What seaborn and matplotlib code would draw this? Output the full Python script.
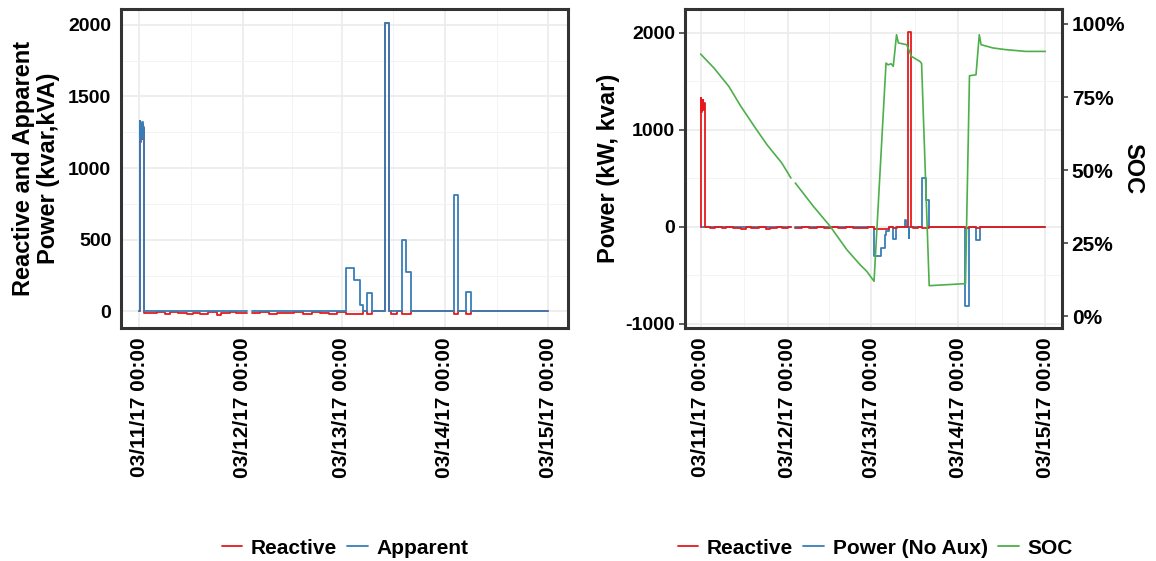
import numpy as np
import pandas as pd
import matplotlib
matplotlib.use("Agg")
import matplotlib.pyplot as plt
from matplotlib.lines import Line2D
import seaborn as sns

# Hours since 03/11/17 00:00 local time (DST starts on 03/12, so that day has 23 h)
tick_hours = [0, 24, 47, 71, 95]
tick_labels = ["03/11/17 00:00", "03/12/17 00:00", "03/13/17 00:00",
               "03/14/17 00:00", "03/15/17 00:00"]
minor_hours = [12, 35.5, 59, 83]
gap = (25.0, 26.1)  # logger outage

# Reactive power (kvar), step samples
reactive_hours = [0, 0.02, 0.15, 0.3, 0.45, 0.6, 0.75, 0.9, 1.1, 2.5, 4.0, 6.0, 7.0, 9.0,
                  11.0, 12.5, 14.0, 16.0, 18.0, 19.0, 21.0, 22.5, 24.0, 25.0,
                  26.1, 28.0, 30.0, 32.0, 34.0, 36.0, 38.0, 40.0, 42.0, 44.0, 46.0,
                  47.9, 52.0, 52.9, 54.0, 57.1, 58.1, 58.4, 59.9, 61.0, 63.0,
                  73.0, 74.0, 76.0, 77.0, 95.0]
reactive_kvar = [0, 1330, 1180, 1300, 1220, 1310, 1200, 1280, -8, -14, -6, -18, -5, -12,
                 -20, -8, -15, -5, -22, -10, -6, -14, -8, -8,
                 -12, -5, -16, -8, -12, -4, -18, -7, -10, -15, -6,
                 -20, 0, -15, 0, 2010, 0, -15, 0, -18, 0,
                 -15, 0, -15, 0, 0]

# Apparent power (kVA), step samples
apparent_hours = [0, 0.02, 0.15, 0.3, 0.45, 0.6, 0.75, 0.9, 1.1, 25.0,
                  26.1, 47.9, 49.8, 51.2, 52.0, 52.9, 54.0, 57.1, 58.1, 61.0, 62.0, 63.0,
                  73.0, 74.0, 76.0, 77.0, 95.0]
apparent_kva = [0, 1330, 1190, 1310, 1230, 1320, 1210, 1290, 0, 0,
                0, 306, 218, 44, 0, 125, 0, 2010, 0, 500, 276, 0,
                812, 0, 137, 0, 0]

# Real power without auxiliary load (kW), step samples
power_hours = [0, 25.0, 26.1, 47.9, 49.8, 50.7, 51.2, 52.0, 52.9, 53.8, 56.3, 56.5,
               57.3, 57.5, 61.0, 62.0, 63.0, 73.0, 74.0, 76.0, 77.0, 95.0]
power_kw = [0, 0, 0, -306, -218, -90, -40, 0, -127, 0, 70, 0,
            -115, 0, 502, 278, 0, -814, 0, -134, 0, 0]

# State of charge (%)
soc_hours = [0, 3.7, 7.8, 11.0, 15.1, 18.3, 22.4, 24.9, 26.1, 31.1, 35.7, 40.3, 44.0,
             45.8, 47.8, 51.1, 51.7, 52.5, 53.1, 54.0, 54.5, 56.8, 58.1, 60.4, 60.9,
             63.0, 73.0, 74.1, 75.9, 76.8, 77.3, 80.5, 84.1, 89.6, 95.0]
soc_pct = [89.7, 84.9, 78.6, 72.0, 64.4, 58.7, 52.4, 47.3, 45.6, 37.6, 30.8, 22.8, 17.6,
           15.4, 12.0, 86.6, 86.0, 86.4, 85.5, 96.3, 93.5, 92.9, 88.9, 87.2, 86.5,
           10.5, 11.2, 82.3, 82.6, 96.3, 92.9, 91.8, 91.2, 90.6, 90.6]

RED, BLUE, GREEN = "#E41A1C", "#377EB8", "#4DAF4A"
colors = {"Reactive": RED, "Apparent": BLUE, "Power (No Aux)": BLUE, "SOC": GREEN}

sns.set_style("white")
plt.rcParams["font.family"] = ["Liberation Sans", "DejaVu Sans"]
plt.rcParams["font.weight"] = "bold"
plt.rcParams["axes.labelweight"] = "bold"
plt.rcParams["text.color"] = "black"
plt.rcParams["axes.labelcolor"] = "black"


def frame(name, hours, values):
    df = pd.DataFrame({"hour": hours, "value": values})
    df["series"] = name
    df["seg"] = (df["hour"] >= gap[1]).astype(int)
    return df


def draw(ax, df, step=True, lw=1.3):
    kw = {"drawstyle": "steps-post"} if step else {}
    sns.lineplot(data=df, x="hour", y="value", hue="series", units="seg",
                 estimator=None, palette=colors, legend=False, ax=ax,
                 linewidth=lw, **kw)


def style(ax, ylim, yticks, yminor):
    ax.set_xlim(-4.3, 99.6)
    ax.set_ylim(*ylim)
    ax.set_xticks(tick_hours)
    ax.set_xticklabels(tick_labels, rotation=90, fontsize=15, fontweight="bold")
    ax.set_xticks(minor_hours, minor=True)
    ax.set_yticks(yticks)
    ax.set_yticklabels([str(v) for v in yticks], fontsize=14, fontweight="bold")
    ax.set_yticks(yminor, minor=True)
    ax.grid(which="major", color="#EBEBEB", linewidth=1.2)
    ax.grid(which="minor", color="#F3F3F3", linewidth=0.7)
    ax.set_axisbelow(True)
    ax.tick_params(which="minor", length=0)
    ax.tick_params(which="major", length=4, width=1.1, color="#333333",
                   labelcolor="black", pad=3)
    for s in ax.spines.values():
        s.set_color("#333333")
        s.set_linewidth(2.2)
    ax.set_xlabel("")


W, H = 1156, 561
fig = plt.figure(figsize=(W / 100, H / 100), dpi=100)
fig.patch.set_facecolor("white")

# Left panel: reactive and apparent power
axl = fig.add_axes([121 / W, 1 - 328 / H, 447 / W, 319 / H])
draw(axl, frame("Reactive", reactive_hours, reactive_kvar))
draw(axl, frame("Apparent", apparent_hours, apparent_kva))
style(axl, (-116, 2110), [0, 500, 1000, 1500, 2000], [250, 750, 1250, 1750])
axl.set_ylabel("Reactive and Apparent\nPower (kvar,kVA)", fontsize=17,
               fontweight="bold", linespacing=1.1, labelpad=6, color="black")

# Right panel: power, reactive power and state of charge
axr = fig.add_axes([685 / W, 1 - 328 / H, 377 / W, 319 / H])
draw(axr, frame("Power (No Aux)", power_hours, power_kw))
draw(axr, frame("Reactive", reactive_hours, reactive_kvar))
style(axr, (-1044, 2244), [-1000, 0, 1000, 2000], [-500, 500, 1500])
axr.set_ylabel("Power (kW, kvar)", fontsize=17, fontweight="bold", labelpad=4,
               color="black")

axs = axr.twinx()
draw(axs, frame("SOC", soc_hours, soc_pct), step=False, lw=1.2)
axs.set_ylim(-3.97, 105.1)
axs.set_yticks([0, 25, 50, 75, 100])
axs.set_yticklabels([f"{v}%" for v in [0, 25, 50, 75, 100]], fontsize=15,
                    fontweight="bold")
axs.tick_params(axis="y", length=4, width=1.1, color="#333333", labelcolor="black", pad=3)
for s in axs.spines.values():
    s.set_visible(False)
axs.set_ylabel("SOC", fontsize=17, fontweight="bold", rotation=270, labelpad=14,
               color="black")
axs.set_xlabel("")


def legend(items, cx):
    handles = [Line2D([], [], color=colors[n], linewidth=1.3) for n in items]
    fig.legend(handles, items, loc="center", bbox_to_anchor=(cx / W, 1 - 548 / H),
               ncol=len(items), frameon=False, handlelength=1.0, handletextpad=0.4,
               columnspacing=0.5, labelcolor="black",
               prop={"size": 15, "weight": "bold"})


legend(["Reactive", "Apparent"], 345)
legend(["Reactive", "Power (No Aux)", "SOC"], 875)

fig.savefig("out.png", dpi=100, facecolor="white")
